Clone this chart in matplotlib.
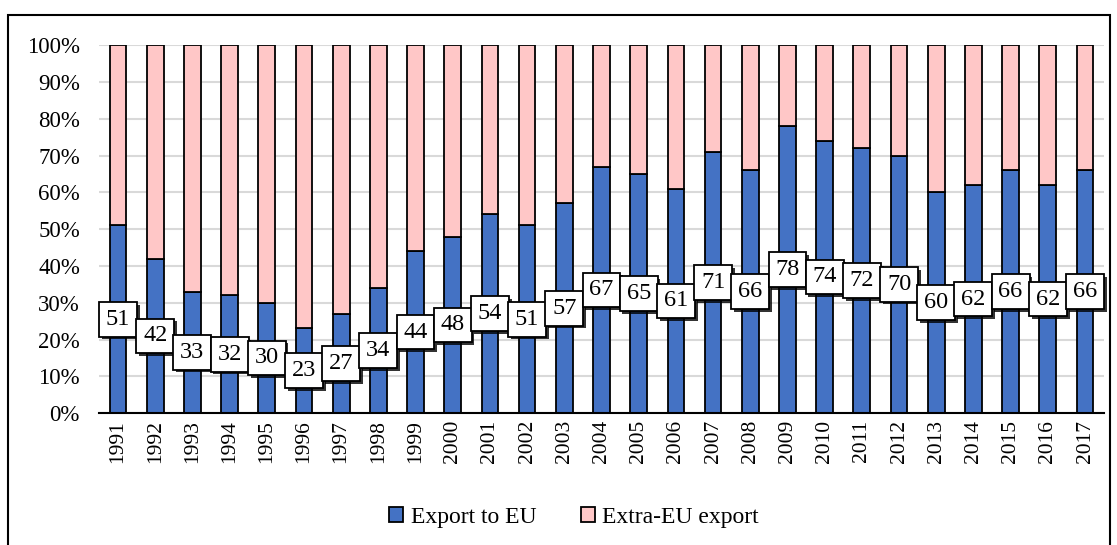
import numpy as np
import matplotlib
matplotlib.use("Agg")
import matplotlib.pyplot as plt
import matplotlib.patheffects as pe
from matplotlib.patches import Rectangle

plt.rcParams["font.family"] = ["Liberation Serif", "DejaVu Serif"]

years = [str(y) for y in range(1991, 2018)]
eu_share = [51, 42, 33, 32, 30, 23, 27, 34, 44, 48, 54, 51, 57, 67, 65,
            61, 71, 66, 78, 74, 72, 70, 60, 62, 66, 62, 66]
extra_share = [100 - v for v in eu_share]

blue = "#4472C4"
pink = "#FFC7C7"

fig = plt.figure(figsize=(11.17, 5.45), dpi=100)
ax = fig.add_axes([0.089, 0.242, 0.899, 0.675])

x = np.arange(len(years))
ax.bar(x, eu_share, width=0.45, color=blue, edgecolor="black", linewidth=1.3,
       label="Export to EU", zorder=3)
ax.bar(x, extra_share, width=0.45, bottom=eu_share, color=pink,
       edgecolor="black", linewidth=1.3, label="Extra-EU export", zorder=3)

for xi, v in zip(x, eu_share):
    t = ax.text(xi, v / 2, str(v), ha="center", va="center", fontsize=17.5,
                zorder=5,
                bbox=dict(boxstyle="square,pad=0.28", fc="white", ec="black",
                          lw=1.3))
    t.get_bbox_patch().set_path_effects(
        [pe.SimplePatchShadow(offset=(2, -2), shadow_rgbFace="black", alpha=0.8),
         pe.Normal()])

ax.set_xlim(-0.5, len(years) - 0.5)
ax.set_ylim(0, 100)
ax.set_yticks(range(0, 101, 10))
ax.set_yticklabels([f"{v}%" for v in range(0, 101, 10)], fontsize=16.5)
ax.set_xticks(x)
ax.set_xticklabels(years, rotation=90, fontsize=15.5)
ax.tick_params(axis="y", length=0, pad=14)
ax.tick_params(axis="x", length=0, pad=5)
ax.grid(axis="y", color="#D9D9D9", linewidth=1.5, zorder=0)
for s in ["left", "right", "top"]:
    ax.spines[s].set_visible(False)
ax.spines["bottom"].set_linewidth(1.5)
ax.spines["bottom"].set_zorder(4)

leg = fig.legend(loc="center", bbox_to_anchor=(0.514, 0.05), ncol=2,
                 frameon=False, fontsize=17, handlelength=0.6,
                 handleheight=0.6, handletextpad=0.3, columnspacing=1.9)

fig.patches.append(Rectangle((0.007, -0.01), 0.987, 0.983,
                             transform=fig.transFigure, fill=False,
                             edgecolor="black", linewidth=1.5))

fig.savefig("out.png", dpi=100)
